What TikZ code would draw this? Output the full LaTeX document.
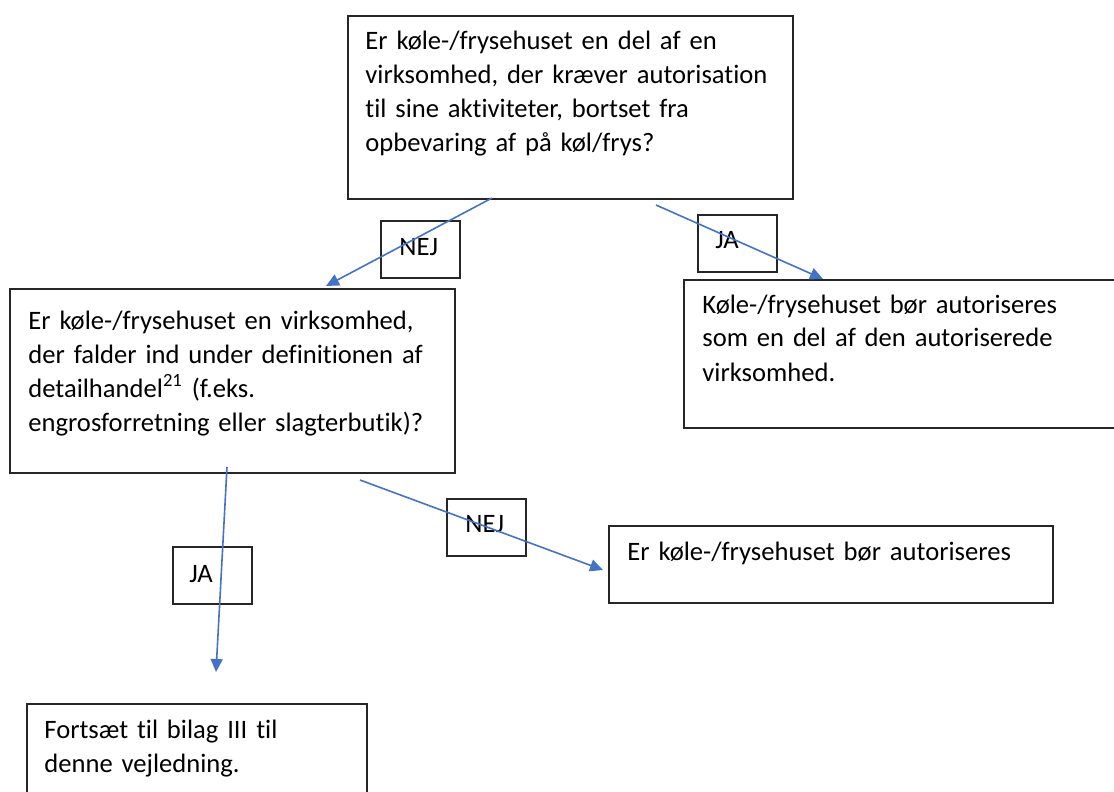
\documentclass[tikz,border=0pt]{standalone}
\usepackage{fontspec}
\setmainfont{Carlito}[Ligatures=NoCommon]
\usetikzlibrary{arrows.meta}
\definecolor{arrowblue}{HTML}{4472C4}

\begin{document}
\begin{tikzpicture}[
  x=0.5pt, y=0.5pt,
  font=\fontsize{13.3}{17}\selectfont,
  q/.style={draw=black!85, line width=1pt, anchor=north west, inner sep=0pt},
  txt/.style={anchor=base west, inner sep=0pt, align=left, text width=250pt},
  lab/.style={draw=black!85, line width=1pt, anchor=north west, inner sep=0pt, minimum width=39.5pt, minimum height=28.5pt},
  a/.style={-{Triangle[length=6.5pt, width=6pt]}, arrowblue, line width=0.8pt}
]
\useasboundingbox (0,0) rectangle (1114,-792);
\clip (0,0) rectangle (1114,-792);

% question and answer boxes
\node[q, minimum width=222.5pt, minimum height=91.5pt] (q1) at (347,-15) {};
\node[q, minimum width=222.5pt, minimum height=92pt] (q2) at (9,-288) {};
\node[q, minimum width=230pt, minimum height=74pt] (q3) at (683,-279) {};
\node[q, minimum width=222pt, minimum height=38.5pt] (q4) at (608,-525) {};
\node[q, minimum width=170pt, minimum height=60pt] (q5) at (26,-703) {};

\node[txt] (t1) at ([shift={(18,-35)}]q1.north west)
  {Er køle-/frysehuset en del af en\\virksomhed, der kræver autorisation\\til sine aktiviteter, bortset fra\\opbevaring af på køl/frys?};
\node[txt] (t2) at ([shift={(19,-41)}]q2.north west)
  {Er køle-/frysehuset en virksomhed,\\der falder ind under definitionen af\\detailhandel\textsuperscript{21} (f.eks.\\engrosforretning eller slagterbutik)?};
\node[txt] (t3) at ([shift={(19,-34)}]q3.north west)
  {Køle-/frysehuset bør autoriseres\\som en del af den autoriserede\\virksomhed.};
\node[txt] (t4) at ([shift={(19,-35)}]q4.north west)
  {Er køle-/frysehuset bør autoriseres};
\node[txt] (t5) at ([shift={(18,-35)}]q5.north west)
  {Fortsæt til bilag III til\\denne vejledning.};

% answer labels
\node[lab] (l1) at (380,-220) {};
\node[lab] (l2) at (697,-214) {};
\node[lab] (l3) at (172,-546) {};
\node[lab] (l4) at (446,-498) {};
\node[txt] (n1) at ([shift={(19,-36)}]l1.north west) {NEJ};
\node[txt] (j1) at ([shift={(18,-35)}]l2.north west) {JA};
\node[txt] (j2) at ([shift={(17,-36)}]l3.north west) {JA};
\node[txt] (n2) at ([shift={(19,-34)}]l4.north west) {NEJ};

% arrow ends
\coordinate (s1) at ([shift={(145,2)}]q1.south west);
\coordinate (e1) at ([shift={(317,2)}]q2.north west);
\coordinate (s2) at ([shift={(309,-5)}]q1.south west);
\coordinate (e2) at ([shift={(140,0)}]q3.north west);
\coordinate (s3) at ([shift={(218,7)}]q2.south west);
\coordinate (e3) at ([shift={(190,31)}]q5.north west);
\coordinate (s4) at ([shift={(351,-6)}]q2.south west);
\coordinate (e4) at ([shift={(-5,-45)}]q4.north west);

\draw[a] (s1) -- (e1);
\draw[a] (s2) -- (e2);
\draw[a] (s3) -- (e3);
\draw[a] (s4) -- (e4);
\end{tikzpicture}
\end{document}
